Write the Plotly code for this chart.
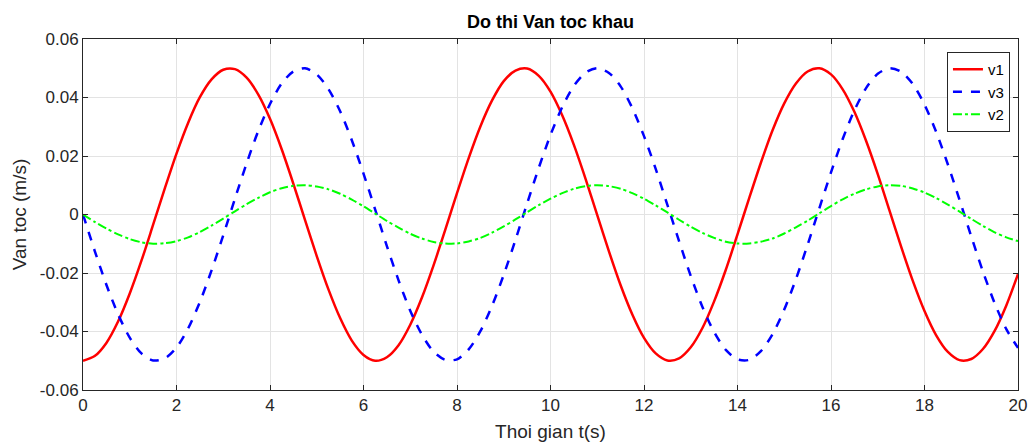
import plotly.graph_objects as go

t = [0.0, 0.25, 0.5, 0.75, 1.0, 1.25, 1.5, 1.75, 2.0, 2.25, 2.5, 2.75, 3.0, 3.25, 3.5, 3.75,
     4.0, 4.25, 4.5, 4.75, 5.0, 5.25, 5.5, 5.75, 6.0, 6.25, 6.5, 6.75, 7.0, 7.25, 7.5, 7.75,
     8.0, 8.25, 8.5, 8.75, 9.0, 9.25, 9.5, 9.75, 10.0, 10.25, 10.5, 10.75, 11.0, 11.25, 11.5, 11.75,
     12.0, 12.25, 12.5, 12.75, 13.0, 13.25, 13.5, 13.75, 14.0, 14.25, 14.5, 14.75, 15.0, 15.25, 15.5, 15.75,
     16.0, 16.25, 16.5, 16.75, 17.0, 17.25, 17.5, 17.75, 18.0, 18.25, 18.5, 18.75, 19.0, 19.25, 19.5, 19.75,
     20.0]

v1 = [-0.0500, -0.0484, -0.0439, -0.0366, -0.0270, -0.0158, -0.0035, 0.0089, 0.0208, 0.0314, 0.0401,
      0.0462, 0.0495, 0.0497, 0.0468, 0.0410, 0.0327, 0.0223, 0.0105, -0.0019, -0.0142, -0.0256,
      -0.0354, -0.0431, -0.0480, -0.0500, -0.0488, -0.0447, -0.0377, -0.0284, -0.0173, -0.0052,
      0.0073, 0.0193, 0.0301, 0.0390, 0.0456, 0.0492, 0.0499, 0.0474, 0.0420, 0.0339, 0.0238,
      0.0122, -0.0002, -0.0126, -0.0242, -0.0342, -0.0422, -0.0475, -0.0499, -0.0492, -0.0454,
      -0.0388, -0.0297, -0.0189, -0.0068, 0.0056, 0.0177, 0.0288, 0.0380, 0.0448, 0.0489, 0.0500,
      0.0479, 0.0428, 0.0351, 0.0252, 0.0138, 0.0014, -0.0110, -0.0227, -0.0330, -0.0413, -0.0470,
      -0.0498, -0.0494, -0.0460, -0.0398, -0.0311, -0.0204]

v3 = [0.0000, -0.0124, -0.0240, -0.0341, -0.0421, -0.0475, -0.0499, -0.0492, -0.0455, -0.0389,
      -0.0299, -0.0191, -0.0071, 0.0054, 0.0175, 0.0286, 0.0378, 0.0448, 0.0489, 0.0500, 0.0479,
      0.0429, 0.0353, 0.0254, 0.0140, 0.0017, -0.0108, -0.0225, -0.0329, -0.0411, -0.0469, -0.0497,
      -0.0495, -0.0461, -0.0399, -0.0312, -0.0206, -0.0087, 0.0038, 0.0160, 0.0272, 0.0367, 0.0440,
      0.0485, 0.0500, 0.0484, 0.0438, 0.0364, 0.0268, 0.0156, 0.0033, -0.0091, -0.0210, -0.0316,
      -0.0402, -0.0463, -0.0495, -0.0497, -0.0467, -0.0409, -0.0325, -0.0221, -0.0103, 0.0021,
      0.0144, 0.0258, 0.0356, 0.0432, 0.0481, 0.0500, 0.0488, 0.0446, 0.0376, 0.0282, 0.0171,
      0.0050, -0.0075, -0.0195, -0.0303, -0.0392, -0.0456]

v2 = [0.0000, -0.0025, -0.0048, -0.0068, -0.0084, -0.0095, -0.0100, -0.0098, -0.0091, -0.0078,
      -0.0060, -0.0038, -0.0014, 0.0011, 0.0035, 0.0057, 0.0076, 0.0090, 0.0098, 0.0100, 0.0096,
      0.0086, 0.0071, 0.0051, 0.0028, 0.0003, -0.0022, -0.0045, -0.0066, -0.0082, -0.0094, -0.0099,
      -0.0099, -0.0092, -0.0080, -0.0062, -0.0041, -0.0017, 0.0008, 0.0032, 0.0054, 0.0073, 0.0088,
      0.0097, 0.0100, 0.0097, 0.0088, 0.0073, 0.0054, 0.0031, 0.0007, -0.0018, -0.0042, -0.0063,
      -0.0080, -0.0093, -0.0099, -0.0099, -0.0093, -0.0082, -0.0065, -0.0044, -0.0021, 0.0004,
      0.0029, 0.0052, 0.0071, 0.0086, 0.0096, 0.0100, 0.0098, 0.0089, 0.0075, 0.0056, 0.0034,
      0.0010, -0.0015, -0.0039, -0.0061, -0.0078, -0.0091]

x_ticks = [0, 2, 4, 6, 8, 10, 12, 14, 16, 18, 20]
y_ticks = [-0.06, -0.04, -0.02, 0, 0.02, 0.04, 0.06]
y_tick_labels = ["-0.06", "-0.04", "-0.02", "0", "0.02", "0.04", "0.06"]

FONT = "Liberation Sans, Arial, sans-serif"
AX = "#262626"

fig = go.Figure()
fig.add_trace(go.Scatter(x=t, y=v1, name="v1", mode="lines",
                         line=dict(color="#ff0000", width=2.5, shape="spline", smoothing=0.8)))
fig.add_trace(go.Scatter(x=t, y=v3, name="v3", mode="lines",
                         line=dict(color="#0000ff", width=2.5, dash="dash", shape="spline", smoothing=0.8)))
fig.add_trace(go.Scatter(x=t, y=v2, name="v2", mode="lines",
                         line=dict(color="#00ff00", width=2, dash="dashdot", shape="spline", smoothing=0.8)))

axis_common = dict(showline=True, linecolor=AX, linewidth=1, mirror="ticks",
                   ticks="inside", ticklen=5, tickcolor=AX, tickwidth=1,
                   showgrid=True, gridcolor="#e3e3e3", gridwidth=1, zeroline=False,
                   automargin=False,
                   tickfont=dict(family=FONT, size=17, color=AX))

fig.update_layout(
    width=1028, height=447,
    margin=dict(l=83, r=10, t=39, b=57),
    paper_bgcolor="white", plot_bgcolor="white",
    title=dict(text="<b>Do thi Van toc khau</b>", x=0.5, xref="paper", y=1 - 22 / 447, yanchor="middle",
               font=dict(family=FONT, size=18, color="#000000"), automargin=False),
    xaxis=dict(range=[0, 20], tickvals=x_ticks, ticktext=[str(v) for v in x_ticks],
               title=dict(text="Thoi gian t(s)", standoff=10, font=dict(family=FONT, size=19, color=AX)),
               **axis_common),
    yaxis=dict(range=[-0.06, 0.06], tickvals=y_ticks, ticktext=y_tick_labels,
               title=dict(text="Van toc (m/s)", standoff=8, font=dict(family=FONT, size=19, color=AX)),
               **axis_common),
    legend=dict(x=0.9914, y=0.963, xanchor="right", yanchor="top",
                bgcolor="white", bordercolor=AX, borderwidth=1,
                font=dict(family=FONT, size=15, color="#000000"),
                tracegroupgap=0, itemwidth=30),
    showlegend=True,
)

fig.write_html("out.html")
